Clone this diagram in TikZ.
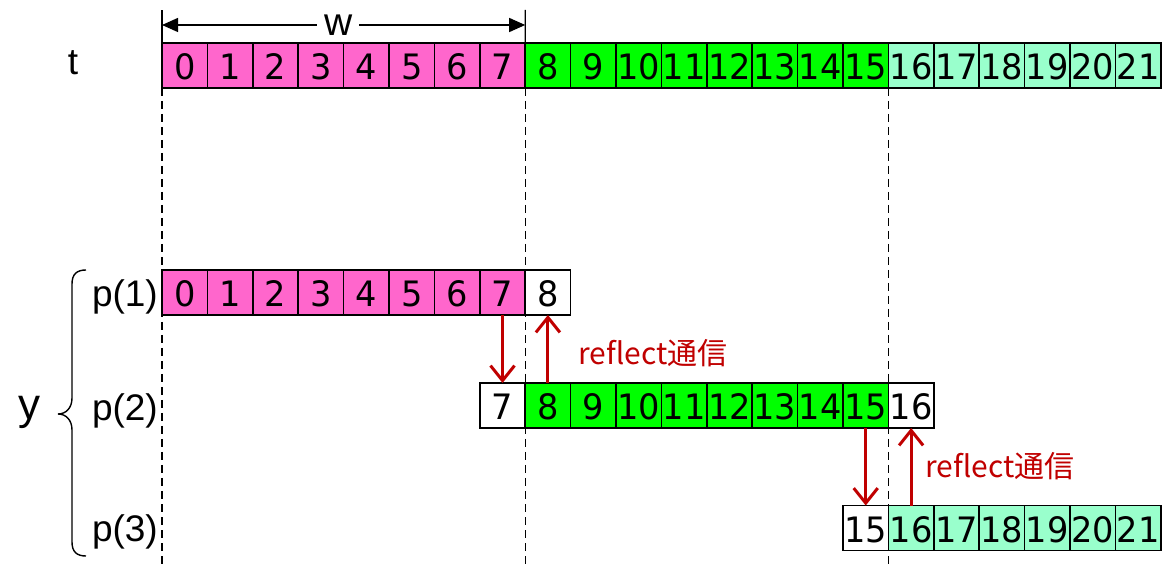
\documentclass[tikz,border=0pt]{standalone}
\usepackage{fontspec}
\setmainfont{Liberation Sans}
\newfontfamily\digitfont[FakeStretch=0.96]{DejaVu Sans}
\newfontfamily\jpfont{Noto Sans CJK JP}
\usetikzlibrary{arrows.meta}
\definecolor{pinkc}{RGB}{255,102,204}
\definecolor{greenc}{RGB}{0,255,0}
\definecolor{lgreenc}{RGB}{153,255,204}
\definecolor{redc}{RGB}{192,0,0}
\newcommand\cellfnt{\digitfont\fontsize{35}{35}\selectfont}
\newcommand\lblfnt{\fontsize{37}{37}\selectfont}
\tikzset{
  cell/.style={draw, line width=1.5pt, minimum width=45.4pt, minimum height=45pt, inner sep=0pt, outer sep=0pt, font=\cellfnt, text height=29pt, text depth=0pt},
  guide/.style={line width=1.3pt, dash pattern=on 8pt off 5pt},
  redarrow/.style={draw=redc, line width=3pt, -{Straight Barb[length=15pt,width=24pt,line width=3pt]}},
  redlabel/.style={text=redc, font=\jpfont\fontsize{30}{30}\selectfont, anchor=west, inner sep=0pt},
  dimarrow/.style={line width=1.3pt, {Triangle[length=16pt,width=14pt]}-{Triangle[length=16pt,width=14pt]}},
  lbl/.style={font=\lblfnt, inner sep=0pt}
}
\begin{document}
\begin{tikzpicture}[x=1pt,y=-1pt]
\path[use as bounding box] (0,0) rectangle (1171,569);
% guides
\coordinate (g0t) at (162,88); \coordinate (g0b) at (162,566);
\coordinate (g1t) at (525.2,88); \coordinate (g1b) at (525.2,566);
\coordinate (g2t) at (888.4,88); \coordinate (g2b) at (888.4,566);
\draw[guide] (g0t) -- (g0b);
\draw[guide] (g1t) -- (g1b);
\draw[guide] (g2t) -- (g2b);
% top row
\foreach \i in {0,...,7} \node[cell,fill=pinkc] (t\i) at ({162+(\i+0.5)*45.4},65.5) {\i};
\foreach \i in {8,...,15} \node[cell,fill=greenc] (t\i) at ({162+(\i+0.5)*45.4},65.5) {\i};
\foreach \i in {16,...,21} \node[cell,fill=lgreenc] (t\i) at ({162+(\i+0.5)*45.4},65.5) {\i};
% p(1)
\foreach \i in {0,...,7} \node[cell,fill=pinkc] (a\i) at ({162+(\i+0.5)*45.4},292.5) {\i};
\node[cell,fill=white] (a8) at ({162+8.5*45.4},292.5) {8};
% p(2)
\node[cell,fill=white] (b7) at ({162+7.5*45.4},405.5) {7};
\foreach \i in {8,...,15} \node[cell,fill=greenc] (b\i) at ({162+(\i+0.5)*45.4},405.5) {\i};
\node[cell,fill=white] (b16) at ({162+16.5*45.4},405.5) {16};
% p(3)
\node[cell,fill=white] (c15) at ({162+15.5*45.4},528) {15};
\foreach \i in {16,...,21} \node[cell,fill=lgreenc] (c\i) at ({162+(\i+0.5)*45.4},528) {\i};
% w dimension
\coordinate (wl) at (162,25); \coordinate (wr) at (525.2,25);
\coordinate (wlt) at (162,10); \coordinate (wrt) at (525.2,10);
\draw[line width=1.3pt] (t0.north west) -- (wlt);
\draw[line width=1.3pt] (t7.north east) -- (wrt);
\draw[dimarrow] (wl) -- node[pos=0.485, fill=white, inner xsep=7pt, inner ysep=0pt, font=\fontsize{39}{39}\selectfont] (wlabel) {w} (wr);
% labels
\node[lbl] (tl) at (73,63) {t};
\node[lbl, anchor=east] (p1) at (158,297) {p(1)};
\node[lbl, anchor=east] (p2) at (158,411) {p(2)};
\node[lbl, anchor=east] (p3) at (158,532) {p(3)};
\node[font=\fontsize{44}{44}\selectfont, inner sep=0pt] (yl) at (29,412) {y};
% brace
\draw[line width=1.4pt] (86,270) .. controls (77,270) and (72,274) .. (72,284)
  -- (72,398) .. controls (72,408) and (66,414) .. (58,414)
  .. controls (66,414) and (72,420) .. (72,430)
  -- (72,542) .. controls (72,552) and (77,556) .. (86,556);
% red arrows
\draw[redarrow] (a7.south) -- (b7.north);
\draw[redarrow] (b8.north) -- (a8.south);
\draw[redarrow] (b15.south) -- (c15.north);
\draw[redarrow] (c16.north) -- (b16.south);
\node[redlabel] (r1) at (578,353) {reflect通信};
\node[redlabel] (r2) at (925,466) {reflect通信};
\end{tikzpicture}
\end{document}
